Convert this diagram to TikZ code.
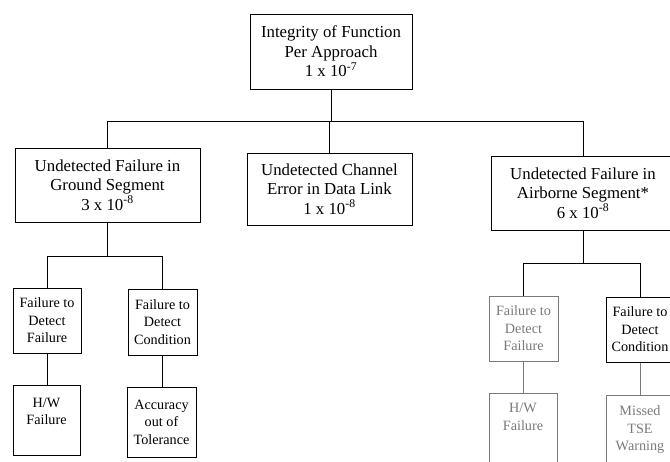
\documentclass[tikz,border=0pt]{standalone}
\usepackage{fontspec}
\setmainfont{Liberation Serif}
\definecolor{faded}{HTML}{7A7A7A}
\begin{document}
\begin{tikzpicture}[x=1pt,y=-1pt,
  line width=1pt,
  bigbox/.style={draw, align=center, inner sep=0pt, font=\fontsize{16.8}{19.5}\selectfont},
  smallbox/.style={draw, align=center, inner sep=0pt, font=\fontsize{14.2}{17.5}\selectfont},
  fadedbox/.style={smallbox, draw=faded, text=faded},
  link/.style={draw=black},
  fadedlink/.style={draw=faded}]
\clip (0,0) rectangle (670,461);
\fill[white] (0,0) rectangle (670,461);

\node[bigbox, minimum width=162pt, minimum height=75pt] (top) at (331,51.5)
  {Integrity of Function\\Per Approach\\1 x 10\textsuperscript{-7}};
\node[bigbox, minimum width=185pt, minimum height=74pt] (ground) at (107.5,185)
  {Undetected Failure in\\Ground Segment\\3 x 10\textsuperscript{-8}};
\node[bigbox, minimum width=165pt, minimum height=72pt] (data) at (329.5,189)
  {Undetected Channel\\Error in Data Link\\1 x 10\textsuperscript{-8}};
\node[bigbox, minimum width=184pt, minimum height=74pt] (air) at (583,193)
  {Undetected Failure in\\Airborne Segment*\\6 x 10\textsuperscript{-8}};

\node[smallbox, minimum width=68pt, minimum height=65pt] (gfd) at (47,320.5)
  {Failure to\\Detect\\Failure};
\node[smallbox, minimum width=69pt, minimum height=66pt] (gfc) at (162.5,322)
  {Failure to\\Detect\\Condition};
\node[smallbox, minimum width=67pt, minimum height=70pt, text depth=0pt] (ghw) at (46.5,420)
  {H/W\\Failure\\\strut};
\node[smallbox, minimum width=69pt, minimum height=70pt] (gacc) at (161.5,422)
  {Accuracy\\out of\\Tolerance};

\node[fadedbox, minimum width=69pt, minimum height=65pt] (afd) at (523.5,328.5)
  {Failure to\\Detect\\Failure};
\node[smallbox, minimum width=68pt, minimum height=65pt] (afc) at (640,329.5)
  {Failure to\\Detect\\Condition};
\node[fadedbox, minimum width=68pt, minimum height=70pt] (ahw) at (523,428)
  {H/W\\Failure\\\strut};
\node[fadedbox, minimum width=68pt, minimum height=70pt] (atse) at (640,430)
  {Missed\\TSE\\Warning};

% top level bus
\coordinate (bus) at (330,121);
\draw[link] (top.south) -- (top.south |- bus);
\draw[link] (ground.north) -- (ground.north |- bus) -| (air.north);
\draw[link] (data.north) -- (data.north |- bus);

% ground subtree
\coordinate (gbus) at (105,256);
\draw[link] (ground.south) -- (ground.south |- gbus);
\draw[link] (gfd.north) -- (gfd.north |- gbus) -| (gfc.north);
\draw[link] (gfd.south) -- (ghw.north -| gfd.south);
\draw[link] (gfc.south) -- (gacc.north -| gfc.south);

% airborne subtree
\coordinate (abus) at (583,263);
\draw[link] (air.south) -- (air.south |- abus);
\draw[link] (afd.north) -- (afd.north |- abus) -| (afc.north);
\draw[fadedlink] (afd.south) -- (ahw.north -| afd.south);
\draw[fadedlink] (afc.south) -- (atse.north -| afc.south);
\end{tikzpicture}
\end{document}
